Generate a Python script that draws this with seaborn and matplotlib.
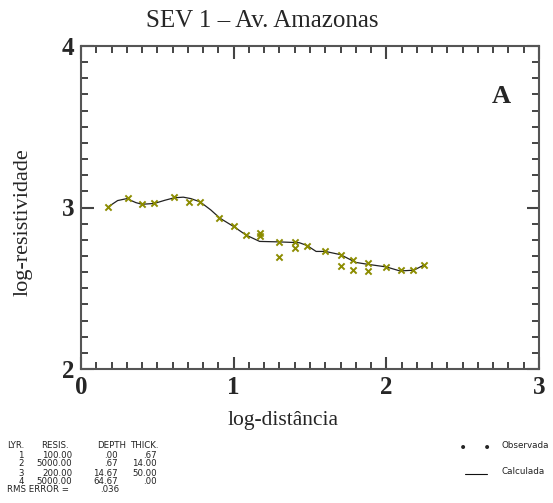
import matplotlib
matplotlib.use("Agg")
import matplotlib.pyplot as plt
import numpy as np
import pandas as pd
import seaborn as sns
from matplotlib.ticker import MultipleLocator

# observed apparent resistivity (log10 AB/2, log10 rho)
obs_x = [0.18, 0.31, 0.40, 0.48, 0.61, 0.705, 0.78, 0.905, 1.00, 1.08,
         1.175, 1.175, 1.30, 1.30, 1.40, 1.40, 1.48, 1.60, 1.70, 1.70,
         1.78, 1.78, 1.877, 1.877, 2.00, 2.094, 2.176, 2.248]
obs_y = [3.006, 3.056, 3.019, 3.027, 3.064, 3.035, 3.035, 2.934, 2.885, 2.827,
         2.845, 2.825, 2.788, 2.695, 2.788, 2.752, 2.763, 2.732, 2.703, 2.639,
         2.672, 2.616, 2.659, 2.608, 2.631, 2.610, 2.614, 2.645]

# calculated model curve
calc_x = [0.18, 0.24, 0.30, 0.36, 0.40, 0.48, 0.55, 0.61, 0.67, 0.72,
          0.78, 0.85, 0.91, 1.00, 1.08, 1.17, 1.30, 1.43, 1.48, 1.54,
          1.60, 1.70, 1.80, 1.88, 2.00, 2.09, 2.18, 2.25]
calc_y = [3.005, 3.043, 3.055, 3.030, 3.020, 3.025, 3.045, 3.060, 3.064, 3.055,
          3.035, 2.985, 2.934, 2.882, 2.830, 2.790, 2.787, 2.782, 2.765, 2.728,
          2.728, 2.708, 2.660, 2.648, 2.632, 2.607, 2.612, 2.645]

# layer model table
lyr = ["1", "2", "3", "4"]
resis = ["100.00", "5000.00", "200.00", "5000.00"]
depth = [".00", ".67", "14.67", "64.67"]
thick = [".67", "14.00", "50.00", ".00"]
rms = ".036"

obs = pd.DataFrame({"x": obs_x, "y": obs_y})
calc = pd.DataFrame({"x": calc_x, "y": calc_y})

sns.set_theme(style="ticks")
plt.rcParams["font.family"] = ["Liberation Serif", "DejaVu Serif"]

W, H = 553, 503
fig = plt.figure(figsize=(W / 100, H / 100), dpi=100)
ax = fig.add_axes([81 / W, 1 - 369 / H, 458 / W, 323 / H])

sns.lineplot(data=calc, x="x", y="y", ax=ax, color="#222222", linewidth=0.9, sort=False)
sns.scatterplot(data=obs, x="x", y="y", ax=ax, marker="x", s=20, color="#8c8c00",
                linewidth=1.4, zorder=3)

ax.set_xlim(0, 3)
ax.set_ylim(2, 4)
ax.xaxis.set_major_locator(MultipleLocator(1))
ax.xaxis.set_minor_locator(MultipleLocator(0.1))
ax.yaxis.set_major_locator(MultipleLocator(1))
ax.yaxis.set_minor_locator(MultipleLocator(0.1))
ax.tick_params(which="both", direction="in", top=True, right=True, color="#444444")
ax.tick_params(which="major", length=9, width=1.5, labelsize=18, pad=5)
ax.tick_params(which="minor", length=5, width=1.4)
for lab in ax.get_xticklabels() + ax.get_yticklabels():
    lab.set_fontweight("bold")
for sp in ax.spines.values():
    sp.set_linewidth(1.5)
    sp.set_color("#555555")

ax.set_xlabel("log-distância", fontsize=15.5)
ax.set_ylabel("log-resistividade", fontsize=16)
ax.xaxis.set_label_coords((283 - 81) / 458, -0.13)
ax.yaxis.set_label_coords(-0.105, (369 - 222) / 323)

ax.text(0.918, 0.845, "A", transform=ax.transAxes, fontsize=19, fontweight="bold",
        ha="center", va="center")

fig.text(262 / W, 1 - 21 / H, "SEV 1 – Av. Amazonas", fontsize=18, ha="center", va="center")

# layer table at bottom-left
tf = dict(fontsize=6.2, family="DejaVu Sans", va="center", color="#222222")
row_y = [446, 455, 464, 473, 481, 490]
fig.text(7 / W, 1 - row_y[0] / H, "LYR.", ha="left", **tf)
fig.text(41 / W, 1 - row_y[0] / H, "RESIS.", ha="left", **tf)
fig.text(97 / W, 1 - row_y[0] / H, "DEPTH", ha="left", **tf)
fig.text(131 / W, 1 - row_y[0] / H, "THICK.", ha="left", **tf)
for i in range(len(lyr)):
    yy = 1 - row_y[i + 1] / H
    fig.text(21 / W, yy, lyr[i], ha="center", **tf)
    fig.text(72 / W, yy, resis[i], ha="right", **tf)
    fig.text(118 / W, yy, depth[i], ha="right", **tf)
    fig.text(157 / W, yy, thick[i], ha="right", **tf)
fig.text(7 / W, 1 - row_y[5] / H, "RMS ERROR =", ha="left", **tf)
fig.text(100 / W, 1 - row_y[5] / H, rms, ha="left", **tf)

# legend at bottom-right
lf = dict(tf, fontsize=6.3)
fig.text(463 / W, 1 - 448 / H, "•", fontsize=10, ha="center", va="center", family="DejaVu Sans")
fig.text(487 / W, 1 - 448 / H, "•", fontsize=10, ha="center", va="center", family="DejaVu Sans")
fig.text(502 / W, 1 - 446 / H, "Observada", ha="left", **lf)
fig.add_artist(plt.Line2D([465 / W, 487 / W], [1 - 474 / H, 1 - 474 / H],
                          color="#111111", linewidth=0.8))
fig.text(502 / W, 1 - 472 / H, "Calculada", ha="left", **lf)

fig.savefig("out.png", dpi=100, facecolor="white")
